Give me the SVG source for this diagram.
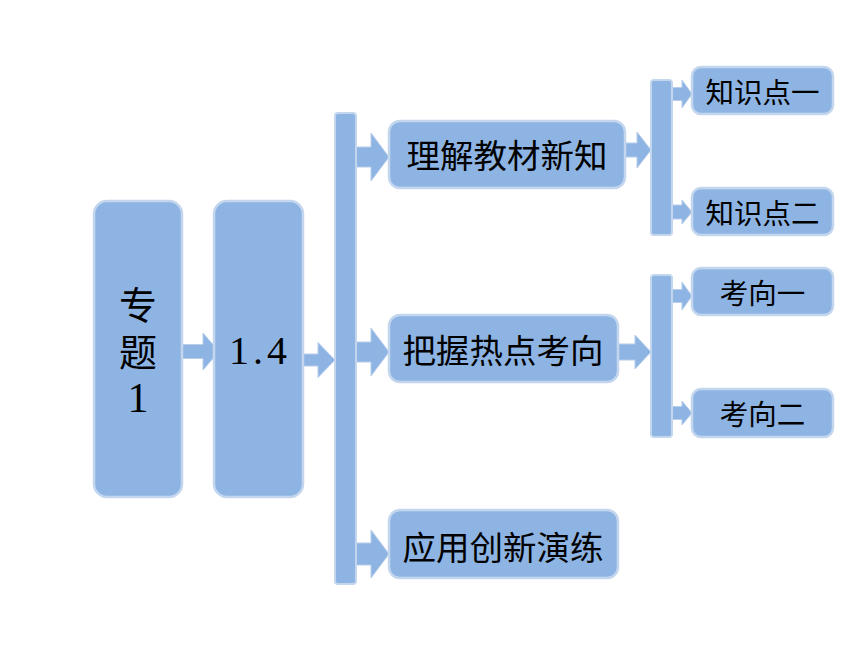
<svg xmlns="http://www.w3.org/2000/svg" width="860" height="645" viewBox="0 0 860 645">
<style>
.box{fill:#8EB4E3;stroke:#C3D6EE;stroke-width:2.5}
.bar{fill:#8EB4E3;stroke:#C3D6EE;stroke-width:2}
.arr{fill:#8EB4E3;stroke:#B7CDEA;stroke-width:1}
.t{font-family:"Noto Sans CJK SC","Noto Sans CJK JP",sans-serif;fill:#000;text-anchor:middle;dominant-baseline:central}
.big{font-size:33.5px}
.small{font-size:28.5px}
.num{font-family:"Liberation Serif","DejaVu Serif",serif;fill:#000;text-anchor:middle}
</style>
<rect width="860" height="645" fill="#fff"/>
<g id="connectors">
<polygon class="arr" points="182,344.5 203,344.5 203,333 219,351.5 203,370 203,358.5 182,358.5"/>
<polygon class="arr" points="303,354 318,354 318,342.5 335,360 318,377.5 318,366 303,366"/>
<polygon class="arr" points="356,147 371,147 371,133 389,157 371,181 371,167 356,167"/>
<polygon class="arr" points="356,342 371,342 371,328 389,352 371,376 371,362 356,362"/>
<polygon class="arr" points="356,543 371,543 371,530 389,554 371,578 371,565 356,565"/>
<polygon class="arr" points="625,143 637,143 637,132 651,150 637,168 637,157 625,157"/>
<polygon class="arr" points="618,344 635,344 635,335 651,352 635,369 635,360 618,360"/>
<polygon class="arr" points="672,87.5 682,87.5 682,80 692,94 682,108 682,100.5 672,100.5"/>
<polygon class="arr" points="672,205 682,205 682,200 692,212 682,224 682,219 672,219"/>
<polygon class="arr" points="672,289.5 682,289.5 682,282 692,296 682,310 682,302.5 672,302.5"/>
<polygon class="arr" points="672,406.5 682,406.5 682,401 692,413 682,425 682,419.5 672,419.5"/>
</g>
<g id="bar1"><rect class="bar" x="335" y="113" width="21" height="471" rx="3"/></g>
<g id="bar2"><rect class="bar" x="651" y="80" width="21" height="155" rx="3"/></g>
<g id="bar3"><rect class="bar" x="651" y="275" width="21" height="162" rx="3"/></g>
<g id="node-zhuanti">
<rect class="box" x="94" y="201" width="88" height="296" rx="13"/>
<text class="t" x="138" y="302" style="font-size:38px">专</text>
<text class="t" x="138" y="349" style="font-size:38px">题</text>
<text class="num" x="138" y="412" style="font-size:42px">1</text>
</g>
<g id="node-14">
<rect class="box" x="214" y="201" width="89" height="296" rx="13"/>
<text class="num" x="260" y="364" style="font-size:40px;letter-spacing:4px">1.4</text>
</g>
<g id="node-lijie">
<rect class="box" x="389" y="121" width="236" height="67" rx="11"/>
<text class="t big" x="507" y="153">理解教材新知</text>
</g>
<g id="node-bawo">
<rect class="box" x="389" y="315" width="229" height="67" rx="11"/>
<text class="t big" x="503" y="348">把握热点考向</text>
</g>
<g id="node-yingyong">
<rect class="box" x="389" y="510" width="229" height="68" rx="11"/>
<text class="t big" x="503" y="545">应用创新演练</text>
</g>
<g id="node-zsd1">
<rect class="box" x="692" y="67" width="141" height="47" rx="9"/>
<text class="t small" x="762.5" y="90">知识点一</text>
</g>
<g id="node-zsd2">
<rect class="box" x="692" y="188" width="141" height="47" rx="9"/>
<text class="t small" x="762.5" y="211">知识点二</text>
</g>
<g id="node-kx1">
<rect class="box" x="692" y="268" width="141" height="47" rx="9"/>
<text class="t small" x="762.5" y="291">考向一</text>
</g>
<g id="node-kx2">
<rect class="box" x="692" y="389" width="141" height="48" rx="9"/>
<text class="t small" x="762.5" y="412">考向二</text>
</g>
</svg>
